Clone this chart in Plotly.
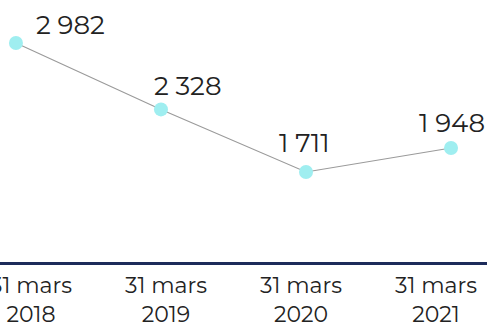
import plotly.graph_objects as go

# Values at each reporting date
dates = ["31 mars<br>2018", "31 mars<br>2019", "31 mars<br>2020", "31 mars<br>2021"]
values = [2982, 2328, 1711, 1948]

# Label offsets (pixels) relative to each point
label_dx = [55, 27, -2, 1]
label_dy = [18, 23, 29, 25]

FONT = "Montserrat, 'Open Sans', sans-serif"
idx = list(range(len(values)))

fig = go.Figure()

fig.add_trace(go.Scatter(
    x=idx, y=values,
    mode="lines+markers",
    line=dict(color="#9a9a9a", width=1.1),
    marker=dict(color="#9feef0", size=14),
    showlegend=False, hoverinfo="skip",
))

# Invisible trace carrying the category axis
fig.add_trace(go.Scatter(
    x=idx, y=[None] * len(idx), xaxis="x2",
    mode="markers", showlegend=False, hoverinfo="skip",
))

for i, v in enumerate(values):
    fig.add_annotation(
        x=i, y=v, xref="x", yref="y",
        text=f"{v:,}".replace(",", " "),
        showarrow=False, xanchor="center", yanchor="middle",
        xshift=label_dx[i], yshift=label_dy[i],
        font=dict(family=FONT, size=26, color="#222222"),
    )

fig.update_layout(
    width=487, height=325,
    margin=dict(l=0, r=0, t=0, b=63, autoexpand=False),
    paper_bgcolor="white", plot_bgcolor="white",
    xaxis=dict(range=[-0.110, 3.248], visible=False, fixedrange=True,
               automargin=False),
    xaxis2=dict(
        overlaying="x", side="bottom", anchor="y",
        range=[-0.23, 3.378], automargin=False,
        tickmode="array", tickvals=idx, ticktext=dates,
        ticklabeloverflow="allow",
        showline=True, linecolor="#1c2b5a", linewidth=2.5,
        showgrid=False, zeroline=False,
        ticks="outside", ticklen=2, tickcolor="rgba(0,0,0,0)",
        tickfont=dict(family=FONT, size=22, color="#222222"),
    ),
    yaxis=dict(range=[824, 3406], visible=False, fixedrange=True,
               automargin=False),
)

fig.write_html("out.html")
